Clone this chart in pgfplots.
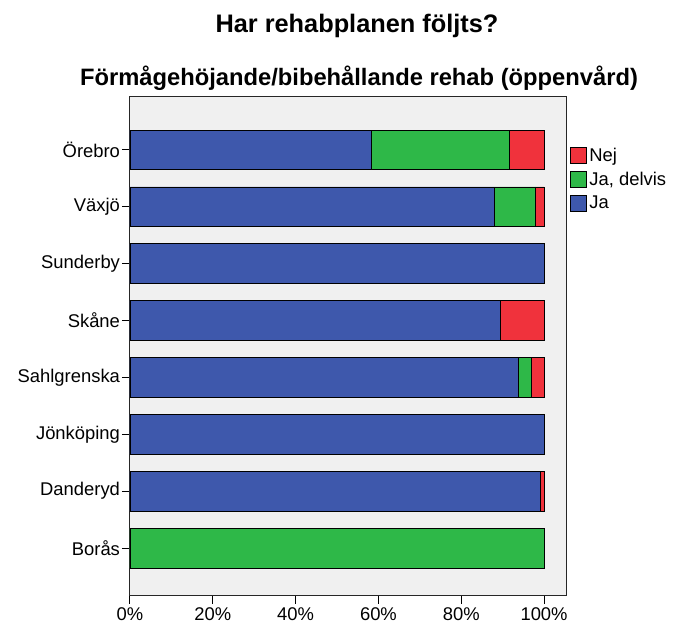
\documentclass[border=0pt]{standalone}
\usepackage{fontspec}
\setmainfont{Liberation Sans}
\usepackage{pgfplots}
\pgfplotsset{compat=1.18}

\definecolor{jaBlue}{HTML}{3E58AC}
\definecolor{delvisGreen}{HTML}{2EB848}
\definecolor{nejRed}{HTML}{F0323C}
\definecolor{plotBg}{HTML}{F0F0F0}

\begin{document}
\begin{tikzpicture}
% fixed canvas, 1px = 0.75pt, axis frame corner at (0,0)
\path (-97.5pt,-25.5pt) rectangle (408.75pt,447pt);
\begin{axis}[
    xbar stacked,
    scale only axis,
    width=327pt, height=374.25pt,
    xmin=0, xmax=105.3,
    ymin=0.068, ymax=8.844,
    y dir=reverse,
    bar width=0.7,
    axis background/.style={fill=plotBg},
    axis line style={black!85, line width=0.75pt},
    tick align=outside,
    xtick pos=bottom, ytick pos=left,
    major tick length=6pt,
    tick style={black, line width=0.75pt},
    xtick={0,20,40,60,80,100},
    xticklabel={\pgfmathprintnumber{\tick}\%},
    /pgf/number format/assume math mode=true,
    ytick={1,2,3,4,5,6,7,8},
    yticklabels={Örebro,Växjö,Sunderby,Skåne,Sahlgrenska,Jönköping,Danderyd,Borås},
    ticklabel style={font=\fontsize{13.8}{16}\selectfont},
    xticklabel style={yshift=1pt},
    yticklabel style={xshift=2pt},
    every axis plot/.append style={draw=black, line width=0.6pt},
    legend style={at={(1.005,0.906)}, anchor=north west, draw=none, fill=white,
        font=\fontsize{13.8}{16}\selectfont, row sep=2.5pt, inner sep=1pt,
        cells={anchor=west}},
    reverse legend,
    legend image code/.code={\draw[#1, draw=black, line width=0.75pt] (0pt,-6pt) rectangle (12pt,6pt);},
]
\addplot[fill=jaBlue] coordinates {
    (58.3,1) (88,2) (100,3) (89.5,4) (93.9,5) (100,6) (99,7) (0,8)};
\addplot[fill=delvisGreen] coordinates {
    (33.3,1) (10,2) (0,3) (0,4) (3.1,5) (0,6) (0,7) (100,8)};
\addplot[fill=nejRed] coordinates {
    (8.4,1) (2,2) (0,3) (10.5,4) (3,5) (0,6) (1,7) (0,8)};
\legend{Ja,{Ja, delvis},Nej}
\end{axis}
\node[font=\bfseries\fontsize{19}{22}\selectfont] at (170.25pt,427.5pt) {Har rehabplanen följts?};
\node[font=\bfseries\fontsize{17.8}{20}\selectfont] at (171.75pt,388.5pt) {Förmågehöjande/bibehållande rehab (öppenvård)};
\end{tikzpicture}
\end{document}
